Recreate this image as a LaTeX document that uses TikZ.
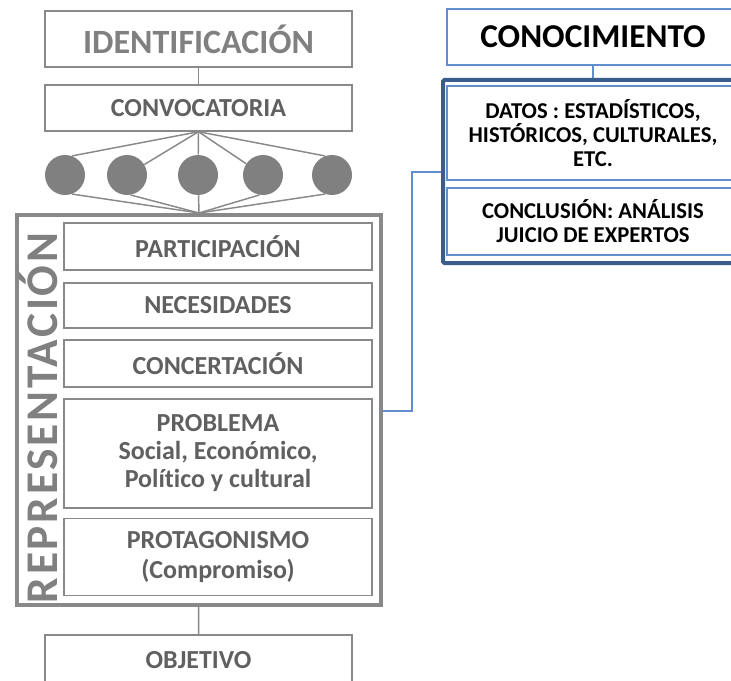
\documentclass[tikz,border=0pt]{standalone}
\usepackage{fontspec}
\setmainfont{Carlito}[Ligatures=NoCommon]
\usepackage{xcolor}
\usepackage{tikz}
\definecolor{gline}{RGB}{137,137,137}
\definecolor{gdot}{RGB}{128,128,128}
\definecolor{gtext}{RGB}{128,128,128}
\definecolor{gdark}{RGB}{96,96,96}
\definecolor{lblue}{RGB}{98,142,205}
\definecolor{dblue}{RGB}{58,94,140}

\begin{document}
\begin{tikzpicture}[x=0.75pt,y=0.75pt,yscale=-1,xscale=1,
  graybox/.style={draw=gline,line width=1.1pt,fill=white,inner sep=0pt,align=center,text=gdark,font=\fontsize{19.5}{21}\selectfont\bfseries},
  bluebox/.style={draw=lblue,line width=1.1pt,fill=white,inner sep=0pt,align=center,font=\fontsize{17}{18}\selectfont\bfseries},
  dot/.style={circle,fill=gdot,draw=none,minimum size=30pt,inner sep=0pt},
  grayline/.style={draw=gline,line width=1.1pt},
  blueline/.style={draw=lblue,line width=1.1pt}]
\useasboundingbox (0,0) rectangle (731,681);

%Big frame
\draw (199,410) node [draw=gline,line width=3pt,minimum width=273pt,minimum height=292.5pt,inner sep=0pt] (rep) {};
% Text Node
\draw (57,418) node [rotate=90,anchor=base,inner sep=0pt,text=gtext,font=\fontsize{34}{36}\selectfont\bfseries\addfontfeatures{LetterSpace=6}] (reptitle) {REPRESENTACIÓN};

% Left boxes
\draw (198.5,39) node [graybox,minimum width=230.25pt,minimum height=42pt,text=gtext,font=\fontsize{25.5}{28}\selectfont\bfseries] (ident) {IDENTIFICACIÓN};
\draw (198.5,108) node [graybox,minimum width=230.25pt,minimum height=34.5pt] (conv) {CONVOCATORIA};
\draw (218,246.5) node [graybox,minimum width=231pt,minimum height=35.25pt] (part) {PARTICIPACIÓN};
\draw (218,305.5) node [graybox,minimum width=231pt,minimum height=33.75pt] (nec) {NECESIDADES};
\draw (218,363.5) node [graybox,minimum width=231pt,minimum height=35.25pt] (conc) {CONCERTACIÓN};
\draw (218,453.5) node [graybox,minimum width=231pt,minimum height=81.75pt] (prob) {PROBLEMA\\Social, Económico,\\Político y cultural};
\draw (218,557) node [graybox,minimum width=231pt,minimum height=57.75pt,font=\fontsize{19.5}{23}\selectfont\bfseries] (prot) {PROTAGONISMO\\(Compromiso)};
\draw (198.5,660) node [graybox,minimum width=230.25pt,minimum height=37.5pt] (obj) {OBJETIVO};

% Circles
\draw (65,175) node [dot] (c1) {};
\draw (127,175) node [dot] (c2) {};
\draw (198,175) node [dot] (c3) {};
\draw (263,175) node [dot] (c4) {};
\draw (332,175) node [dot] (c5) {};

%Straight Lines
\draw [grayline] (ident) -- (conv);
\draw [grayline] (conv.south) -- (c1.70) ;
\draw [grayline] (conv.south) -- (c2) ;
\draw [grayline] (conv.south) -- (c3) ;
\draw [grayline] (conv.south) -- (c4) ;
\draw [grayline] (conv.south) -- (c5.110) ;
\draw [grayline] (c1.-70) -- (rep.north) ;
\draw [grayline] (c2.-80) -- (rep.north) ;
\draw [grayline] (c3) -- (rep.north) ;
\draw [grayline] (c4.-100) -- (rep.north) ;
\draw [grayline] (c5.-110) -- (rep.north) ;
\draw [grayline] (rep) -- (obj) ;

% Right boxes
\draw (593,37) node [bluebox,minimum width=219pt,minimum height=42pt,font=\fontsize{25}{28}\selectfont\bfseries] (know) {CONOCIMIENTO};
\draw (593,171.5) node [draw=dblue,line width=3pt,minimum width=225pt,minimum height=137.25pt,inner sep=0pt,rounded corners=1pt] (kframe) {};
\draw (593,133) node [bluebox,minimum width=219pt,minimum height=70.5pt] (datos) {DATOS : ESTADÍSTICOS,\\HISTÓRICOS, CULTURALES,\\ETC.};
\draw (593,221.5) node [bluebox,minimum width=219pt,minimum height=50.25pt] (concl) {CONCLUSIÓN: ANÁLISIS\\JUICIO DE EXPERTOS};

%Straight Lines
\draw [blueline] (know) -- (kframe) ;
\coordinate (kneeA) at (412,411);
\coordinate (kneeB) at (412,172);
\draw [blueline] (rep.east |- kneeA) -- (kneeA) -- (kneeB) -- (kframe.west |- kneeB) ;

\end{tikzpicture}
\end{document}
